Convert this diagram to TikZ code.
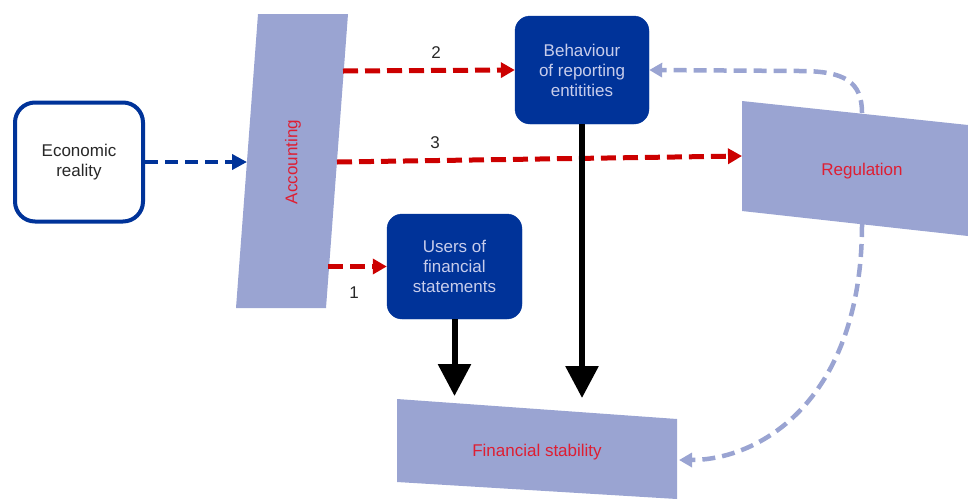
\documentclass[tikz,border=0pt]{standalone}
\usepackage{fontspec}
\setmainfont{Liberation Sans}
\usetikzlibrary{arrows.meta}
\definecolor{lav}{RGB}{154,164,210}
\definecolor{dblue}{RGB}{0,51,153}
\definecolor{ared}{RGB}{204,0,0}
\definecolor{tred}{RGB}{222,30,50}
\definecolor{ltext}{RGB}{200,205,235}
\definecolor{gtext}{RGB}{40,40,40}
\begin{document}
\begin{tikzpicture}[x=1pt,y=-1pt,
  font=\fontsize{17}{20}\selectfont,
  bluebox/.style={draw=dblue, fill=dblue, rounded corners=15pt, text=ltext, align=center, inner sep=0pt},
  econbox/.style={draw=dblue, fill=white, line width=4pt, rounded corners=20pt, text=gtext, align=center, inner sep=0pt, minimum width=128pt, minimum height=119pt},
  shapetext/.style={text=tred, inner sep=0pt},
  numlabel/.style={text=gtext, inner sep=0pt},
  reddash/.style={draw=ared, line width=5pt, dash pattern=on 15pt off 7pt, -{Triangle[length=14pt,width=15pt]}},
  bluedash/.style={draw=dblue, line width=4.5pt, dash pattern=on 13pt off 7pt, -{Triangle[length=15pt,width=15pt]}},
  lavdash/.style={draw=lav, line width=4.5pt, dash pattern=on 13pt off 7pt, -{Triangle[length=13pt,width=14pt]}},
  blkarrow/.style={draw=black, line width=6pt, -{Triangle[length=32pt,width=32pt]}}
]
\useasboundingbox (0,0) rectangle (968,499);

% shapes
\fill[lav] (258,14) -- (348,14) -- (326,308) -- (236,308) -- cycle;
\fill[lav] (742,101) -- (968,125) -- (968,236) -- (742,211) -- cycle;
\fill[lav] (397,399) -- (677,419) -- (677,499) -- (397,482) -- cycle;

\node[shapetext, rotate=90] (acc) at (293,162) {Accounting};
\node[shapetext] (reg) at (862,171) {Regulation};
\node[shapetext] (fs) at (537,452) {Financial stability};

% boxes
\node[econbox] (econ) at (79,162) {Economic\\reality};
\node[bluebox, minimum width=134pt, minimum height=108pt] (beh) at (582,70) {Behaviour\\of reporting\\entitities};
\node[bluebox, minimum width=135pt, minimum height=105pt] (users) at (454.5,266.5) {Users of\\financial\\statements};

% anchor points on shapes
\coordinate (accL) at (247,162);
\coordinate (accR2) at (343,71);
\coordinate (accR3) at (337,162);
\coordinate (accR1) at (328,266.5);
\coordinate (regL) at (742,156);
\coordinate (regT) at (862,113);
\coordinate (regB) at (862,224);
\coordinate (fsR) at (679,460);
\coordinate (fsT1) at (454.5,396);
\coordinate (fsT2) at (582,398);

% connectors
\draw[bluedash] (econ.east) -- (accL);
\draw[reddash] (accR2) -- (beh.west);
\draw[reddash] (accR3) -- (regL);
\draw[reddash] (accR1) -- (users.west);
\draw[lavdash] (regT) .. controls (862,82) and (845,71) .. (800,71) -- (beh.east);
\draw[lavdash] (regB) .. controls (862,400) and (760,460) .. (fsR);
\draw[blkarrow] (users.south) -- (fsT1);
\draw[blkarrow] (beh.south) -- (fsT2);

% labels
\node[numlabel] (l2) at (436,53) {2};
\node[numlabel] (l3) at (435,143) {3};
\node[numlabel] (l1) at (354,293) {1};
\end{tikzpicture}
\end{document}
